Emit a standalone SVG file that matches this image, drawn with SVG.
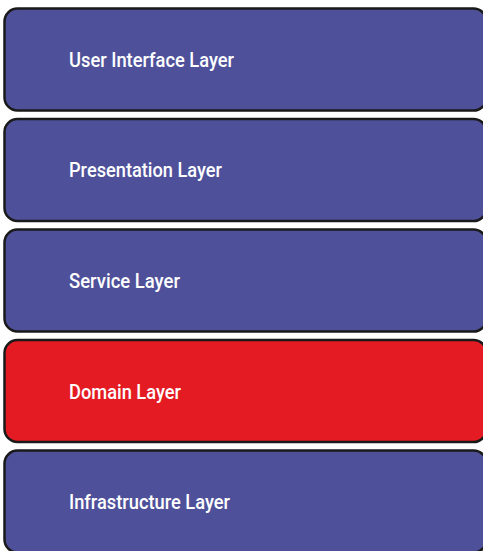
<svg xmlns="http://www.w3.org/2000/svg" width="483" height="551" viewBox="0 0 483 551">
<style>
.box{fill:#4e519a;stroke:#1a1a1a;stroke-width:2.5}
.red{fill:#e41b23}
.lbl{font-family:"Roboto","Liberation Sans",sans-serif;font-weight:500;font-size:20px;fill:#ffffff}
</style>
<rect width="483" height="551" fill="#ffffff"/>
<g id="ui"><rect class="box" x="4.5" y="8.5" width="482" height="102" rx="13"/><text class="lbl" x="69" y="66.5" textLength="165" lengthAdjust="spacingAndGlyphs">User Interface Layer</text></g>
<g id="presentation"><rect class="box" x="4.5" y="119" width="482" height="102" rx="13"/><text class="lbl" x="69" y="177" textLength="153" lengthAdjust="spacingAndGlyphs">Presentation Layer</text></g>
<g id="service"><rect class="box" x="4.5" y="229.5" width="482" height="102" rx="13"/><text class="lbl" x="69" y="287.5" textLength="111" lengthAdjust="spacingAndGlyphs">Service Layer</text></g>
<g id="domain"><rect class="box red" x="4.5" y="340" width="482" height="102" rx="13"/><text class="lbl" x="69" y="398.5" textLength="112" lengthAdjust="spacingAndGlyphs">Domain Layer</text></g>
<g id="infrastructure"><rect class="box" x="4.5" y="450.5" width="482" height="102" rx="13"/><text class="lbl" x="69" y="509" textLength="161" lengthAdjust="spacingAndGlyphs">Infrastructure Layer</text></g>
<g id="connectors"></g>
</svg>
